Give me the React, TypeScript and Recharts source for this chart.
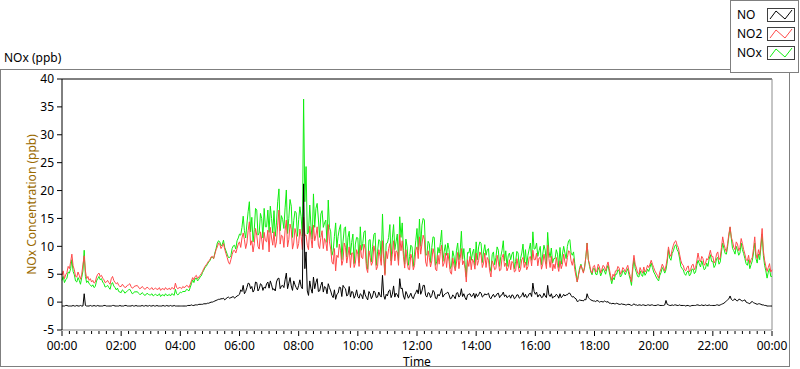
import React from 'react';
import { LineChart, Line, XAxis, YAxis, ReferenceLine } from 'recharts';

// 5-minute samples, 00:00 .. 24:00 (one row per hour, last value is 24:00)
const SAMPLE_MINUTES = 5;

const no2Values = [
  4.8, 4.2, 5.3, 6.0, 8.6, 5.8, 4.5, 4.8, 5.0, 8.3, 4.2, 3.9,
  3.6, 3.4, 4.5, 5.2, 4.8, 4.0, 3.6, 3.5, 4.2, 3.9, 3.3, 3.0,
  2.8, 2.9, 2.7, 3.1, 2.8, 2.6, 2.9, 2.7, 2.5, 2.6, 2.4, 2.5,
  2.4, 2.2, 2.5, 2.3, 2.1, 2.4, 2.6, 2.3, 2.2, 2.5, 3.4, 2.4,
  2.6, 2.8, 2.7, 2.9, 3.2, 4.4, 4.6, 4.2, 4.8, 5.5, 6.4, 7.0,
  7.6, 8.2, 8.6, 9.9, 10.4, 10.0, 9.5, 8.0, 6.8, 8.5, 9.3, 9.6,
  10.8, 11.5, 11.2, 10.6, 14.4, 11.0, 10.5, 12.0, 9.5, 11.3, 12.5, 10.8,
  9.0, 11.5, 12.6, 10.8, 16.5, 12.0, 9.8, 14.7, 11.2, 13.0, 10.6, 12.2,
  10.5, 11.8, 15.2, 12.0, 9.4, 11.5, 13.8, 12.0, 10.2, 11.6, 9.6, 10.8,
  13.9, 9.5, 6.8, 5.6, 8.0, 9.2, 7.5, 9.8, 8.4, 6.2, 8.8, 7.0,
  8.6, 10.2, 7.8, 9.5, 5.3, 8.0, 7.2, 9.0, 6.4, 8.2, 11.0, 4.8,
  7.8, 10.5, 8.6, 7.4, 9.0, 12.1, 11.0, 6.1, 7.2, 5.8, 7.8, 6.6,
  9.9, 11.7, 10.4, 11.2, 6.4, 8.0, 7.4, 8.6, 5.6, 6.8, 10.2, 7.0,
  6.2, 7.3, 5.0, 6.6, 7.0, 6.0, 9.6, 7.4, 3.6, 6.4, 5.8, 7.2,
  8.8, 7.5, 8.4, 7.0, 6.2, 7.5, 4.5, 6.8, 6.0, 7.2, 5.8, 8.6,
  7.0, 6.2, 5.8, 7.0, 5.6, 6.6, 5.9, 8.0, 7.2, 6.4, 8.2, 9.3,
  7.6, 6.5, 8.0, 6.8, 7.4, 10.2, 6.2, 5.6, 6.0, 6.6, 7.4, 6.8,
  7.2, 8.0, 9.0, 6.6, 5.8, 3.6, 5.8, 6.0, 6.4, 10.6, 6.8, 5.2,
  6.6, 5.6, 6.3, 5.9, 6.3, 6.5, 6.0, 3.9, 4.6, 5.6, 6.1, 5.4,
  5.9, 6.1, 5.5, 3.6, 8.4, 6.1, 5.0, 5.6, 6.3, 5.8, 6.2, 7.5,
  6.2, 5.2, 4.3, 6.0, 6.3, 6.5, 9.9, 8.2, 10.2, 11.0, 9.8, 7.5,
  6.6, 5.6, 6.5, 5.8, 6.8, 6.2, 8.8, 7.2, 7.8, 6.9, 7.6, 9.3,
  8.2, 7.4, 9.0, 8.0, 11.7, 9.6, 10.5, 13.5, 10.9, 9.4, 10.4, 9.8,
  10.5, 8.6, 7.4, 6.9, 8.0, 11.7, 7.8, 8.4, 13.2, 7.5, 5.5, 6.9,
  5.8,
];

const noxValues = [
  3.9, 3.5, 4.3, 5.2, 7.6, 4.9, 3.6, 3.9, 4.4, 9.3, 3.5, 3.3,
  2.8, 2.6, 3.8, 4.6, 4.2, 3.3, 2.8, 2.6, 3.2, 2.9, 2.2, 1.9,
  1.7, 2.0, 1.8, 2.2, 1.9, 1.6, 1.8, 1.6, 1.4, 1.5, 1.3, 1.4,
  1.3, 1.1, 1.4, 1.2, 1.0, 1.3, 1.5, 1.2, 1.1, 1.4, 2.3, 1.3,
  1.8, 1.9, 1.9, 2.2, 2.6, 4.0, 4.2, 3.8, 4.5, 5.3, 6.2, 6.8,
  7.4, 8.0, 8.8, 10.6, 10.8, 10.3, 9.8, 8.6, 8.0, 9.6, 10.2, 11.0,
  12.2, 13.4, 12.8, 14.0, 18.0, 15.2, 13.0, 16.5, 12.4, 15.0, 16.8, 13.5,
  12.5, 15.0, 16.4, 14.2, 20.3, 15.5, 13.2, 20.1, 15.0, 17.2, 14.6, 16.0,
  14.8, 15.3, 36.4, 24.3, 12.5, 13.6, 19.4, 16.8, 14.9, 15.8, 13.4, 14.7,
  18.3, 12.6, 9.2, 14.2, 11.8, 13.9, 10.8, 13.5, 11.6, 8.5, 12.2, 10.4,
  11.5, 13.5, 10.5, 12.8, 5.9, 11.2, 10.0, 12.4, 9.0, 11.0, 15.8, 5.1,
  10.6, 13.9, 11.5, 9.4, 12.2, 15.3, 14.2, 6.8, 9.9, 8.2, 9.9, 8.6,
  13.2, 14.9, 13.8, 14.7, 8.5, 10.5, 9.8, 11.6, 7.2, 8.8, 12.9, 9.0,
  8.4, 9.4, 6.5, 8.2, 9.2, 7.6, 12.7, 9.6, 4.5, 8.8, 7.5, 9.5,
  10.8, 9.9, 10.5, 9.0, 8.4, 9.6, 5.5, 9.0, 8.0, 9.3, 8.2, 11.0,
  9.2, 8.3, 7.6, 9.0, 7.3, 8.8, 7.8, 10.4, 9.4, 8.4, 10.6, 12.6,
  9.6, 8.2, 10.0, 8.6, 9.3, 12.5, 8.0, 7.0, 7.8, 8.6, 9.8, 8.6,
  8.8, 10.0, 11.2, 8.4, 6.9, 3.6, 6.2, 5.9, 6.2, 10.6, 6.4, 4.9,
  6.0, 4.9, 5.7, 5.3, 5.6, 6.0, 5.4, 3.3, 4.0, 5.0, 5.6, 4.8,
  5.4, 5.5, 4.9, 3.0, 7.8, 5.3, 4.5, 4.9, 5.6, 5.2, 5.5, 7.0,
  5.4, 4.5, 3.8, 5.3, 5.8, 5.8, 9.4, 7.5, 9.2, 10.3, 9.0, 6.4,
  5.8, 4.8, 5.6, 5.0, 5.9, 5.4, 7.5, 6.3, 6.6, 6.0, 6.4, 8.5,
  7.3, 6.6, 8.0, 7.2, 10.6, 8.7, 10.0, 13.4, 9.6, 8.6, 9.3, 8.8,
  9.4, 7.8, 6.6, 6.0, 7.4, 10.6, 7.0, 7.6, 12.2, 6.6, 4.3, 6.0,
  4.6,
];

const noValues = [
  -0.7, -0.7, -0.6, -0.7, -0.7, -0.7, -0.6, -0.7, -0.7, 1.5, -0.7, -0.7,
  -0.7, -0.6, -0.7, -0.7, -0.7, -0.6, -0.7, -0.7, -0.7, -0.6, -0.7, -0.7,
  -0.7, -0.7, -0.6, -0.7, -0.7, -0.7, -0.6, -0.7, -0.7, -0.7, -0.6, -0.7,
  -0.7, -0.6, -0.7, -0.7, -0.7, -0.6, -0.7, -0.7, -0.6, -0.7, -0.7, -0.7,
  -0.7, -0.7, -0.7, -0.6, -0.6, -0.6, -0.5, -0.5, -0.4, -0.4, -0.3, -0.2,
  -0.1, 0.0, 0.2, 0.4, 0.5, 0.6, 0.4, 0.8, 0.7, 0.9, 0.7, 1.1,
  1.4, 1.9, 1.5, 2.6, 3.3, 2.8, 2.2, 3.5, 2.4, 3.1, 2.7, 3.3,
  2.5, 3.1, 2.4, 3.6, 4.3, 2.9, 2.6, 5.2, 3.4, 2.9, 3.8, 2.6,
  3.0, 2.8, 21.2, 9.0, 1.2, 2.4, 4.5, 3.5, 1.9, 3.0, 1.8, 2.6,
  3.3, 2.0, 0.8, 0.5, 1.6, 2.6, 3.0, 2.4, 1.3, 0.9, 1.8, 1.2,
  1.0, 1.5, 0.6, 1.3, 0.4, 1.5, 1.1, 1.7, 0.9, 1.2, 4.8, 0.5,
  1.1, 2.2, 1.4, 0.9, 1.3, 4.2, 2.5, 0.5, 1.4, 1.1, 0.9, 1.3,
  2.2, 3.4, 2.0, 3.0, 0.9, 1.6, 1.2, 1.8, 0.6, 1.1, 2.4, 1.3,
  1.6, 1.3, 0.7, 1.0, 1.6, 0.9, 2.4, 1.5, 0.4, 1.4, 1.0, 1.6,
  1.5, 1.3, 1.6, 1.1, 1.3, 1.6, 0.6, 1.4, 1.1, 1.6, 1.2, 1.8,
  1.3, 1.0, 0.7, 1.2, 0.8, 1.3, 0.9, 1.7, 1.4, 1.0, 1.6, 3.4,
  1.4, 0.9, 1.3, 0.9, 1.1, 3.0, 1.0, 0.7, 1.0, 1.2, 1.5, 1.0,
  1.1, 1.3, 1.6, 0.9, 0.7, 0.1, 0.4, 0.3, 0.5, 1.5, 0.6, 0.3,
  0.2, 0.3, 0.0, 0.1, 0.2, 0.0, -0.2, -0.3, -0.3, -0.2, -0.4, -0.3,
  -0.4, -0.5, -0.4, -0.6, -0.3, -0.5, -0.5, -0.6, -0.5, -0.6, -0.5, -0.5,
  -0.6, -0.6, -0.5, -0.6, -0.6, 0.3, -0.5, -0.6, -0.6, -0.5, -0.6, -0.6,
  -0.6, -0.7, -0.6, -0.7, -0.6, -0.6, -0.5, -0.6, -0.6, -0.5, -0.6, -0.6,
  -0.6, -0.6, -0.5, -0.5, -0.3, 0.0, 0.4, 1.1, 0.3, 0.6, 0.2, 0.5,
  0.2, 0.4, -0.1, -0.3, 0.1, -0.2, -0.4, -0.3, -0.5, -0.6, -0.7, -0.7,
  -0.7,
];

// half-step samples (hh:m2.5 / hh:m7.5), 00:02.5 .. 23:57.5, one row per hour
const no2Mid = [
  5.6, 4.9, 6.4, 7.2, 6.5, 4.6, 5.4, 4.1, 6.8, 5.6, 4.6, 4.2,
  3.9, 3.6, 5.0, 4.6, 4.3, 3.5, 3.9, 3.2, 4.6, 3.5, 3.5, 2.8,
  3.2, 2.6, 3.0, 3.3, 2.5, 2.9, 3.0, 2.4, 2.8, 2.3, 2.7, 2.3,
  2.6, 2.4, 2.3, 2.6, 2.4, 2.2, 2.3, 2.5, 2.6, 2.3, 2.6, 2.6,
  2.4, 2.6, 3.0, 2.6, 3.8, 4.0, 4.8, 4.5, 5.1, 6.0, 6.7, 7.4,
  8.1, 7.8, 9.4, 10.6, 9.6, 10.5, 8.7, 7.2, 7.6, 9.2, 8.8, 10.4,
  9.8, 12.4, 9.6, 12.8, 10.2, 9.0, 13.2, 10.0, 12.6, 9.4, 11.0, 12.9,
  13.4, 10.2, 9.8, 13.8, 10.4, 11.8, 12.9, 9.9, 14.0, 9.5, 13.2, 9.6,
  13.1, 9.4, 12.0, 10.2, 13.6, 9.7, 11.0, 13.5, 9.6, 12.8, 11.4, 9.2,
  10.8, 7.2, 9.6, 8.4, 10.4, 6.6, 10.6, 7.0, 9.9, 8.8, 6.2, 9.4,
  6.4, 8.0, 10.4, 6.1, 9.2, 6.6, 10.1, 5.8, 9.4, 6.6, 7.8, 9.1,
  9.6, 6.6, 11.0, 9.2, 6.6, 9.2, 8.2, 9.4, 5.9, 8.6, 5.8, 9.3,
  7.8, 8.6, 12.0, 7.2, 9.2, 6.3, 9.6, 5.9, 8.4, 9.1, 6.4, 8.8,
  8.8, 5.4, 7.9, 5.6, 8.9, 7.8, 6.7, 6.0, 7.6, 8.2, 7.7, 5.9,
  6.6, 9.0, 6.2, 8.8, 8.0, 5.6, 7.4, 5.8, 8.4, 5.6, 8.0, 6.4,
  5.6, 7.6, 7.3, 5.4, 7.8, 5.4, 7.6, 6.2, 5.8, 8.0, 6.5, 7.6,
  8.8, 7.9, 5.9, 8.6, 6.0, 7.8, 8.2, 6.8, 8.0, 5.5, 6.0, 8.6,
  6.4, 9.2, 7.4, 7.8, 4.6, 4.8, 6.6, 5.2, 8.0, 7.6, 5.6, 6.4,
  5.4, 6.8, 5.2, 6.6, 5.6, 7.2, 4.8, 5.0, 5.6, 6.4, 5.0, 6.2,
  5.4, 6.6, 4.6, 6.4, 6.8, 5.2, 6.2, 5.2, 5.4, 6.6, 6.8, 6.8,
  5.6, 4.8, 5.4, 6.8, 5.6, 7.8, 8.6, 9.4, 10.8, 10.2, 8.6, 6.8,
  5.8, 6.2, 5.4, 6.6, 5.8, 7.4, 7.6, 8.2, 6.6, 7.8, 8.4, 8.2,
  7.0, 8.6, 7.6, 9.8, 10.4, 9.0, 12.2, 11.6, 9.8, 10.8, 9.2, 11.4,
  9.4, 7.6, 8.4, 7.6, 9.6, 8.6, 9.4, 10.6, 9.2, 6.4, 6.2, 5.4,
];
const noxMid = [
  4.6, 4.0, 5.4, 6.0, 5.5, 3.8, 4.4, 3.2, 5.6, 4.6, 3.8, 3.1,
  3.1, 2.8, 4.2, 4.0, 3.6, 2.7, 3.0, 2.3, 3.5, 2.6, 2.5, 1.8,
  2.2, 1.6, 2.0, 2.3, 1.5, 1.9, 1.9, 1.4, 1.7, 1.2, 1.6, 1.3,
  1.5, 1.3, 1.2, 1.5, 1.3, 1.1, 1.2, 1.4, 1.5, 1.2, 1.5, 1.5,
  1.7, 1.9, 2.3, 2.0, 3.3, 3.5, 4.3, 4.1, 4.7, 5.7, 6.4, 7.2,
  8.0, 7.8, 9.6, 11.0, 10.1, 11.1, 9.2, 8.0, 8.3, 10.1, 9.5, 11.5,
  12.0, 15.4, 11.5, 16.2, 12.6, 10.8, 16.8, 12.0, 15.9, 11.5, 13.5, 16.5,
  17.2, 12.4, 11.8, 18.0, 12.8, 14.8, 16.9, 12.3, 18.4, 11.6, 16.3, 11.8,
  17.1, 11.8, 18.0, 12.2, 17.4, 11.3, 13.4, 17.7, 11.6, 16.4, 14.2, 10.7,
  13.4, 8.4, 11.8, 9.8, 13.1, 7.6, 13.2, 8.1, 12.7, 10.7, 6.9, 11.6,
  7.1, 9.3, 12.6, 6.9, 11.1, 7.2, 12.1, 6.6, 11.2, 7.5, 9.0, 10.5,
  11.6, 7.4, 13.9, 10.8, 7.4, 11.6, 9.3, 11.3, 6.6, 10.2, 6.4, 11.0,
  9.3, 10.0, 15.0, 8.4, 10.9, 7.1, 11.7, 6.6, 9.8, 10.7, 7.3, 10.3,
  10.6, 6.0, 9.2, 6.2, 10.6, 9.0, 7.7, 6.8, 8.9, 9.7, 8.8, 6.6,
  7.6, 10.8, 7.1, 10.3, 9.4, 6.4, 8.5, 6.7, 9.9, 6.4, 9.3, 7.4,
  6.4, 8.8, 8.6, 6.0, 9.1, 6.1, 8.8, 7.1, 6.6, 9.5, 7.5, 9.5,
  10.6, 9.2, 6.7, 10.2, 6.8, 9.1, 9.7, 7.8, 9.4, 6.2, 6.8, 10.0,
  7.8, 11.0, 8.8, 9.0, 5.4, 5.0, 6.8, 5.4, 8.2, 7.6, 5.4, 6.0,
  5.0, 6.2, 4.7, 6.0, 5.0, 6.6, 4.3, 4.4, 5.0, 5.8, 4.5, 5.7,
  4.9, 6.0, 4.1, 5.7, 6.0, 4.6, 5.6, 4.6, 4.8, 5.9, 6.2, 6.2,
  5.0, 4.1, 4.8, 6.2, 5.2, 7.2, 7.9, 8.7, 10.0, 9.4, 7.9, 6.0,
  5.1, 5.4, 4.7, 5.9, 5.1, 6.6, 6.9, 7.4, 5.8, 7.0, 7.7, 7.3,
  6.2, 7.8, 6.8, 9.0, 9.6, 8.6, 11.8, 11.4, 9.2, 10.0, 8.4, 10.6,
  8.7, 6.9, 7.6, 6.7, 8.8, 7.8, 8.6, 9.8, 8.4, 5.6, 5.4, 4.6,
];
const noMid = [
  -0.7, -0.6, -0.7, -0.7, -0.6, -0.7, -0.7, -0.6, -0.7, -0.6, -0.7, -0.6,
  -0.7, -0.7, -0.6, -0.7, -0.7, -0.6, -0.7, -0.7, -0.6, -0.7, -0.7, -0.6,
  -0.7, -0.6, -0.7, -0.7, -0.6, -0.7, -0.7, -0.7, -0.6, -0.7, -0.7, -0.6,
  -0.7, -0.7, -0.6, -0.7, -0.7, -0.7, -0.6, -0.7, -0.7, -0.6, -0.7, -0.7,
  -0.7, -0.7, -0.7, -0.6, -0.5, -0.6, -0.5, -0.4, -0.4, -0.3, -0.3, -0.2,
  0.0, 0.1, 0.3, 0.5, 0.6, 0.7, 0.6, 0.9, 0.8, 1.0, 0.9, 1.2,
  2.2, 3.0, 1.9, 3.4, 2.4, 1.8, 3.6, 2.0, 3.3, 2.1, 2.5, 3.6,
  3.8, 2.2, 2.0, 4.2, 2.4, 3.0, 4.0, 2.4, 4.4, 2.1, 3.1, 2.2,
  4.0, 2.4, 6.0, 2.0, 3.8, 1.6, 2.4, 4.2, 2.0, 3.6, 2.8, 1.5,
  2.6, 1.2, 2.2, 1.4, 2.7, 1.0, 2.6, 1.1, 2.8, 1.9, 0.7, 2.2,
  0.7, 1.3, 2.2, 0.8, 1.9, 0.6, 2.0, 0.8, 1.8, 0.9, 1.2, 1.4,
  2.0, 0.8, 2.9, 1.6, 0.8, 2.4, 1.1, 1.9, 0.7, 1.6, 0.6, 1.7,
  1.5, 1.4, 3.0, 1.2, 1.7, 0.8, 2.1, 0.7, 1.4, 1.6, 0.9, 1.5,
  1.8, 0.6, 1.3, 0.6, 1.7, 1.2, 1.0, 0.8, 1.3, 1.5, 1.1, 0.7,
  1.0, 1.8, 0.9, 1.5, 1.4, 0.8, 1.1, 0.9, 1.5, 0.8, 1.3, 1.0,
  0.8, 1.2, 1.3, 0.6, 1.3, 0.7, 1.2, 0.9, 0.8, 1.5, 1.0, 1.9,
  1.8, 1.3, 0.8, 1.6, 0.8, 1.3, 1.5, 1.0, 1.4, 0.7, 0.8, 1.4,
  1.3, 1.6, 1.2, 1.0, 0.6, 0.2, 0.3, 0.2, 0.4, 0.8, 0.4, 0.2,
  0.1, 0.2, 0.1, 0.0, 0.1, 0.1, -0.2, -0.2, -0.3, -0.3, -0.4, -0.4,
  -0.5, -0.4, -0.5, -0.5, -0.5, -0.6, -0.5, -0.5, -0.6, -0.5, -0.6, -0.5,
  -0.6, -0.5, -0.6, -0.6, -0.5, -0.4, -0.6, -0.5, -0.5, -0.6, -0.5, -0.6,
  -0.6, -0.6, -0.7, -0.6, -0.6, -0.5, -0.6, -0.5, -0.6, -0.6, -0.5, -0.6,
  -0.6, -0.5, -0.6, -0.4, -0.2, 0.2, 0.6, 0.5, 0.4, 0.3, 0.5, 0.3,
  0.3, 0.0, -0.2, 0.0, -0.1, -0.3, -0.3, -0.4, -0.5, -0.6, -0.7, -0.7,
];

const timeLabels = [
  '00:00', '02:00', '04:00', '06:00', '08:00', '10:00', '12:00',
  '14:00', '16:00', '18:00', '20:00', '22:00', '00:00',
];
const yTicks = [-5, 0, 5, 10, 15, 20, 25, 30, 35, 40];

const MAJOR_STEP = 120; // minutes between labelled ticks
const MINOR_STEP = 15;

const chartData = [
  ...no2Values.map((v, i) => ({ t: i * SAMPLE_MINUTES, no: noValues[i], no2: v, nox: noxValues[i] })),
  ...no2Mid.map((v, i) => ({ t: i * SAMPLE_MINUTES + SAMPLE_MINUTES / 2, no: noMid[i], no2: v, nox: noxMid[i] })),
].sort((a, b) => a.t - b.t);

const xTicks: number[] = [];
for (let m = 0; m <= 1440; m += MINOR_STEP) xTicks.push(m);

const FONT = '"Segoe UI", "Noto Sans", "DejaVu Sans", sans-serif';

const series = [
  { name: 'NO', color: '#000000' },
  { name: 'NO2', color: '#ff4a4a' },
  { name: 'NOx', color: '#10ee10' },
];

// eslint-disable-next-line @typescript-eslint/no-explicit-any
function TimeTick(props: any) {
  const { x, y, payload } = props;
  const v = payload.value as number;
  const major = v % MAJOR_STEP === 0;
  return (
    <g>
      <line x1={x} x2={x} y1={y + 1} y2={y + (major ? 6 : 4)} stroke="#000" strokeWidth={1} />
      {major && (
        <text x={x} y={y + 20} textAnchor="middle" fontSize={12} fontFamily={FONT} fill="#000">
          {timeLabels[v / MAJOR_STEP]}
        </text>
      )}
    </g>
  );
}

function LegendBox() {
  return (
    <div
      style={{
        position: 'absolute', left: 730, top: 0, width: 67, height: 71,
        border: '1px solid #7f7f7f', background: '#fff',
      }}
    >
      {series.map((s, i) => (
        <div key={s.name} style={{ position: 'absolute', left: 0, top: 5 + i * 19, width: 67, height: 16 }}>
          <span style={{ position: 'absolute', left: 6, top: 0, fontSize: 12, fontFamily: FONT, color: '#000' }}>
            {s.name}
          </span>
          <svg width={29} height={15} style={{ position: 'absolute', left: 36, top: 2 }}>
            <rect x={0.5} y={0.5} width={27} height={13} fill="#fff" stroke="#404040" />
            <polyline points="3,11 9,3 18,11 25,2" fill="none" stroke={s.color} strokeWidth={1} />
          </svg>
        </div>
      ))}
    </div>
  );
}

export default function App() {
  return (
    <div style={{ position: 'absolute', left: 0, top: 0, width: 800, height: 369, background: '#fff', fontFamily: FONT }}>
      {/* outer frame */}
      <div style={{ position: 'absolute', left: 0, top: 69, width: 788, height: 296, border: '1px solid #7f7f7f' }} />
      <div style={{ position: 'absolute', left: 4, top: 49, fontSize: 12, color: '#000' }}>NOx (ppb)</div>

      <div style={{ position: 'absolute', left: 0, top: 0 }}>
        <LineChart width={800} height={369} data={chartData} margin={{ top: 79, right: 28, bottom: 0, left: 0 }}>
          <XAxis
            dataKey="t"
            type="number"
            domain={[0, 1440]}
            ticks={xTicks}
            interval={0}
            height={39}
            tickSize={0}
            tickMargin={0}
            tick={<TimeTick />}
            axisLine={{ stroke: '#8c8c8c' }}
            tickLine={false}
            label={{ value: 'Time', position: 'insideBottom', offset: 3, fill: '#000', fontSize: 12, fontFamily: FONT }}
          />
          <YAxis
            type="number"
            domain={[-5, 40]}
            ticks={yTicks}
            interval={0}
            width={62}
            tickSize={5}
            tickMargin={3}
            axisLine={{ stroke: '#000' }}
            tickLine={{ stroke: '#000' }}
            tick={{ fill: '#000', fontSize: 12, fontFamily: FONT }}
            label={{
              value: 'NOx Concentration (ppb)', angle: -90, position: 'insideLeft', offset: 32,
              fill: '#9a6a00', fontSize: 12, fontFamily: FONT, style: { textAnchor: 'middle' },
            }}
          />
          <ReferenceLine y={40} stroke="#000" ifOverflow="extendDomain" />
          <ReferenceLine x={1440} stroke="#8c8c8c" ifOverflow="extendDomain" />
          <Line type="linear" dataKey="nox" name="NOx" stroke="#10ee10" strokeWidth={1} dot={false} isAnimationActive={false} />
          <Line type="linear" dataKey="no2" name="NO2" stroke="#ff4a4a" strokeWidth={1} dot={false} isAnimationActive={false} />
          <Line type="linear" dataKey="no" name="NO" stroke="#000000" strokeWidth={1} dot={false} isAnimationActive={false} />
        </LineChart>
      </div>

      <LegendBox />
    </div>
  );
}
